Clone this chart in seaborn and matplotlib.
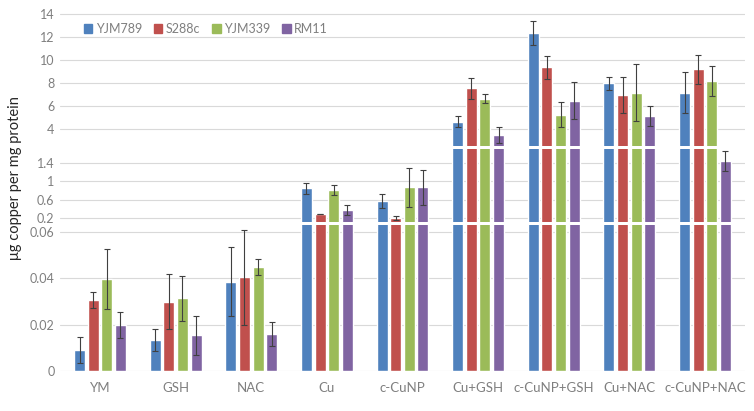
import numpy as np
import pandas as pd
import matplotlib
matplotlib.use("Agg")
import matplotlib.pyplot as plt
import seaborn as sns

treatments = ["YM", "GSH", "NAC", "Cu", "c-CuNP", "Cu+GSH", "c-CuNP+GSH", "Cu+NAC", "c-CuNP+NAC"]
strains = ["YJM789", "S288c", "YJM339", "RM11"]
colors = ["#4F81BD", "#C0504D", "#9BBB59", "#8064A2"]

# mean copper content, one list per strain (same order as treatments)
yjm789 = [0.009, 0.0134, 0.0386, 0.85, 0.57, 4.63, 12.37, 7.97, 7.16]
s288c = [0.0307, 0.030, 0.0405, 0.287, 0.207, 7.54, 9.36, 6.96, 9.19]
yjm339 = [0.0396, 0.0314, 0.045, 0.81, 0.87, 6.64, 5.25, 7.16, 8.17]
rm11 = [0.0199, 0.0155, 0.016, 0.374, 0.87, 3.45, 6.46, 5.13, 1.45]

# error bar half-lengths
yjm789_err = [0.0055, 0.0046, 0.015, 0.12, 0.146, 0.5, 1.05, 0.58, 1.8]
s288c_err = [0.0035, 0.012, 0.0205, 0.01, 0.04, 0.92, 1.0, 1.6, 1.27]
yjm339_err = [0.013, 0.0096, 0.0034, 0.11, 0.43, 0.4, 1.1, 2.5, 1.28]
rm11_err = [0.0057, 0.0084, 0.0053, 0.1, 0.38, 0.7, 1.6, 0.9, 0.22]

means = [yjm789, s288c, yjm339, rm11]
errs = [yjm789_err, s288c_err, yjm339_err, rm11_err]

df = pd.DataFrame({
    "treatment": np.tile(treatments, len(strains)),
    "strain": np.repeat(strains, len(treatments)),
    "value": np.concatenate(means),
})

sns.set_theme(style="white")
plt.rcParams["font.family"] = ["Lato", "DejaVu Sans"]
tick_color = "#7f7f7f"
grid_color = "#d9d9d9"

fig = plt.figure(figsize=(7.54, 4.11), dpi=100)
left, width = 60 / 754, 685 / 754
# (pixel top, pixel bottom, ylim, ticks)
segments = [
    (10, 146, (2.52, 14.35), [4, 6, 8, 10, 12, 14]),
    (149, 222, (0.113, 1.704), [0.2, 0.6, 1, 1.4]),
    (225, 371, (0, 0.0631), [0, 0.02, 0.04, 0.06]),
]

axes = []
for top_px, bot_px, ylim, ticks in segments:
    ax = fig.add_axes([left, 1 - bot_px / 411, width, (bot_px - top_px) / 411])
    sns.barplot(data=df, x="treatment", y="value", hue="strain", palette=colors,
                width=0.72, gap=0.2, errorbar=None, saturation=1, ax=ax,
                legend=(top_px == 10))
    for i in range(len(strains)):
        xs = [b.get_x() + b.get_width() / 2 for b in ax.containers[i]]
        ax.errorbar(xs, means[i], yerr=errs[i], fmt="none", ecolor="#404040",
                    elinewidth=0.8, capsize=2.5, capthick=0.8, zorder=5)
    ax.set_ylim(*ylim)
    ax.set_xlim(-0.53, 8.53)
    ax.set_yticks(ticks)
    ax.set_yticklabels([f"{t:g}" for t in ticks], color=tick_color, fontsize=9)
    ax.yaxis.grid(True, color=grid_color, lw=0.8)
    ax.set_axisbelow(True)
    ax.tick_params(axis="both", length=0, pad=4)
    for s in ax.spines.values():
        s.set_visible(False)
    ax.set_xlabel("")
    ax.set_ylabel("")
    axes.append(ax)

for ax in axes[:2]:
    ax.set_xticks([])
axes[2].set_xticks(range(len(treatments)))
axes[2].set_xticklabels(treatments, color=tick_color, fontsize=9.5)
axes[2].tick_params(axis="x", pad=8)

leg = axes[0].get_legend()
leg.remove()
handles = [plt.Rectangle((0, 0), 1, 1, color=c) for c in colors]
axes[0].legend(handles, strains, loc="upper left", bbox_to_anchor=(0.018, 0.99),
               ncol=4, frameon=False, handlelength=0.7, handleheight=0.7,
               handletextpad=0.3, columnspacing=0.9, fontsize=9, labelcolor=tick_color)

fig.text(0.02, 1 - 178 / 411, "μg copper per mg protein", rotation=90,
         va="center", ha="center", fontsize=10.5, color="#262626")

fig.savefig("out.png", dpi=100)
